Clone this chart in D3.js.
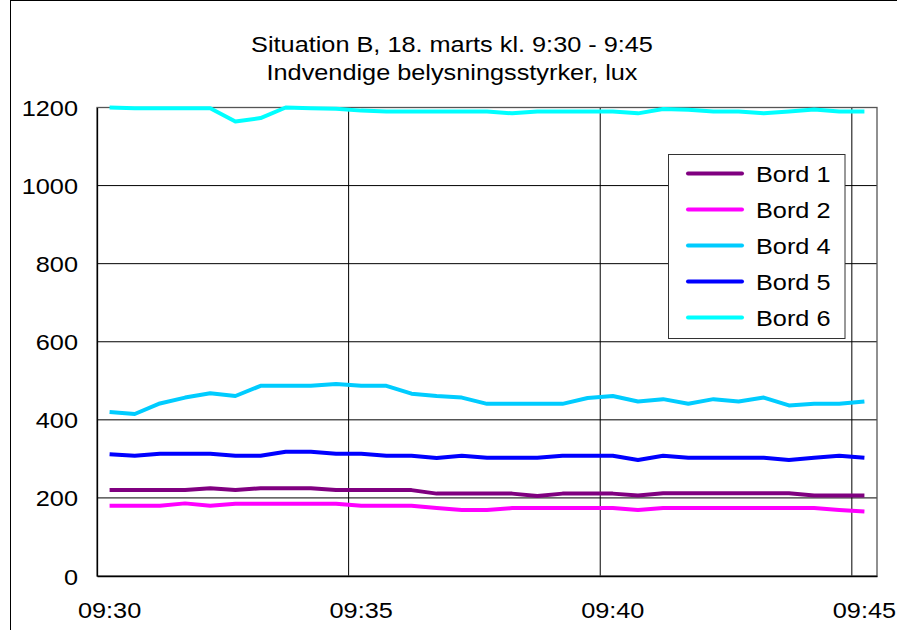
<!DOCTYPE html>
<html><head><meta charset="utf-8">
<script src="https://cdn.jsdelivr.net/npm/d3@7"></script>
<style>
body{margin:0;background:#fff}
text{font-family:"Liberation Sans",Arial,sans-serif;fill:#000}
</style>
</head><body>
<svg id="chart" width="897" height="630"></svg>
<script>
const titleLines = ["Situation B, 18. marts kl. 9:30 - 9:45", "Indvendige belysningsstyrker, lux"];
const times = ["09:30:13","09:30:43","09:31:13","09:31:43","09:32:13","09:32:43","09:33:13","09:33:43","09:34:13","09:34:43",
  "09:35:13","09:35:43","09:36:13","09:36:43","09:37:13","09:37:43","09:38:13","09:38:43","09:39:13","09:39:43",
  "09:40:13","09:40:43","09:41:13","09:41:43","09:42:13","09:42:43","09:43:13","09:43:43","09:44:13","09:44:43","09:45:13"];
const bord1 = [220,220,220,220,225,220,225,225,225,220,220,220,220,211,211,211,211,205,211,211,211,206,212,212,212,212,212,212,206,206,206];
const bord2 = [180,180,180,186,180,185,185,185,185,185,180,180,180,174,169,169,174,174,174,174,174,169,174,174,174,174,174,174,174,169,165];
const bord4 = [420,415,442,457,468,461,487,487,487,492,487,487,467,461,457,441,441,441,441,456,461,447,453,441,453,447,457,437,441,441,447];
const bord5 = [312,308,313,313,313,308,308,318,318,313,313,308,308,302,308,303,303,303,308,308,308,297,308,303,303,303,303,297,303,308,303];
const bord6 = [1200,1198,1198,1198,1198,1164,1173,1200,1198,1197,1192,1190,1190,1190,1190,1190,1185,1190,1190,1190,1190,1185,1196,1194,1190,1190,1185,1190,1195,1190,1190];
const seriesNames = ["Bord 1","Bord 2","Bord 4","Bord 5","Bord 6"];
const seriesColors = ["#800080","#FF00FF","#00CCFF","#0000FF","#00FFFF"];
const seriesValues = [bord1,bord2,bord4,bord5,bord6];
const yTicks = [0,200,400,600,800,1000,1200];
const xLabelEvery = 10;

const FS = 22, SX = 1.15;
const svg = d3.select("#chart");
const m = {left:97, right:877, top:107.5, bottom:576};

const x = d3.scaleBand().domain(times).range([m.left, m.right]).paddingInner(0).paddingOuter(0);
const y = d3.scaleLinear().domain([0,1200]).range([m.bottom, m.top]);
const xc = d => x(d) + x.bandwidth()/2;

function stext(g, str, px, py, anchor){
  return g.append("text").attr("transform",`translate(${px},${py}) scale(${SX},1)`)
    .attr("text-anchor",anchor).style("font-size",FS+"px").text(str);
}

// chart area border (left & top)
svg.append("line").attr("x1",10.5).attr("x2",10.5).attr("y1",0).attr("y2",630).attr("stroke","#000");
svg.append("line").attr("x1",10).attr("x2",897).attr("y1",0.5).attr("y2",0.5).attr("stroke","#000");

// title
stext(svg, titleLines[0], 452, 52, "middle");
stext(svg, titleLines[1], 452, 80, "middle");

// gridlines horizontal
svg.append("g").selectAll("line").data(yTicks.filter(d=>d>0)).join("line")
  .attr("x1",m.left).attr("x2",m.right).attr("y1",d=>y(d)).attr("y2",d=>y(d))
  .attr("stroke","#000").attr("stroke-width",1);
// gridlines vertical (category boundaries every 10)
const vIdx = times.filter((d,i)=>i>0 && i%xLabelEvery===0);
svg.append("g").selectAll("line").data(vIdx).join("line")
  .attr("x1",d=>x(d)).attr("x2",d=>x(d)).attr("y1",m.top).attr("y2",m.bottom)
  .attr("stroke","#000").attr("stroke-width",1);

// plot border
svg.append("rect").attr("x",m.left).attr("y",m.top).attr("width",m.right-m.left).attr("height",m.bottom-m.top)
  .attr("fill","none").attr("stroke","#555").attr("stroke-width",1.3);

// axes
const yAxis = d3.axisLeft(y).tickValues(yTicks).tickSize(0).tickPadding(0);
const ya = svg.append("g").attr("transform",`translate(${m.left},0)`).call(yAxis);
ya.select(".domain").attr("stroke","#000").attr("stroke-width",1.3);
ya.selectAll(".tick text").remove();
ya.selectAll(".tick").each(function(d){ stext(d3.select(this), d, -19, 8, "end"); });

const xAxis = d3.axisBottom(x).tickValues(times.filter((d,i)=>i%xLabelEvery===0)).tickSize(0).tickFormat(d=>d.slice(0,5));
const xa = svg.append("g").attr("transform",`translate(0,${m.bottom})`).call(xAxis);
xa.select(".domain").attr("stroke","#000").attr("stroke-width",1.3);
xa.selectAll(".tick text").remove();
xa.selectAll(".tick").each(function(d){ stext(d3.select(this), d.slice(0,5), 0, 42, "middle"); });

// lines
const line = d3.line().x((d,i)=>xc(times[i])).y(d=>y(d));
seriesValues.forEach((vals,k)=>{
  svg.append("path").datum(vals).attr("d",line).attr("fill","none")
    .attr("stroke",seriesColors[k]).attr("stroke-width",4).attr("stroke-linejoin","round");
});

// legend
const lg = svg.append("g");
lg.append("rect").attr("x",668.5).attr("y",154.5).attr("width",176.5).attr("height",184)
  .attr("fill","#fff").attr("stroke","#333").attr("stroke-width",1);
seriesNames.forEach((n,k)=>{
  const cy = 173.5 + k*36;
  lg.append("line").attr("x1",688).attr("x2",742).attr("y1",cy).attr("y2",cy)
    .attr("stroke",seriesColors[k]).attr("stroke-width",4).attr("stroke-linecap","round");
  stext(lg, n, 756, cy+8, "start");
});
</script>
</body></html>
